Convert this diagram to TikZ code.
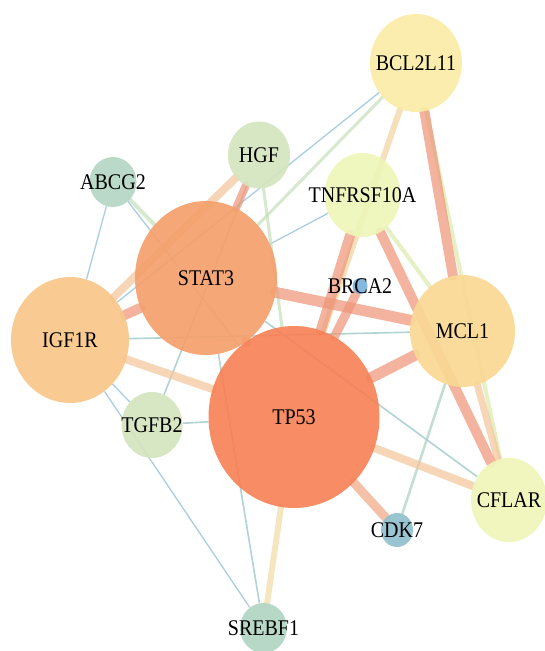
\documentclass[tikz,border=0pt]{standalone}
\usepackage{fontspec}
\setmainfont{Liberation Serif}
\usetikzlibrary{shapes.geometric,backgrounds}
\definecolor{cBCL}{RGB}{250,236,166}
\definecolor{cHGF}{RGB}{212,228,190}
\definecolor{cABC}{RGB}{180,214,196}
\definecolor{cTNF}{RGB}{238,245,184}
\definecolor{cSTA}{RGB}{245,160,108}
\definecolor{cIGF}{RGB}{249,198,136}
\definecolor{cMCL}{RGB}{250,216,148}
\definecolor{cBRC}{RGB}{122,178,220}
\definecolor{cTP5}{RGB}{246,130,88}
\definecolor{cTGF}{RGB}{212,228,190}
\definecolor{cCDK}{RGB}{144,192,206}
\definecolor{cCFL}{RGB}{240,245,186}
\definecolor{cSRE}{RGB}{178,213,194}
\definecolor{eSal}{RGB}{238,150,122}
\definecolor{ePea}{RGB}{244,196,152}
\definecolor{eYel}{RGB}{242,222,170}
\definecolor{eGrn}{RGB}{196,222,184}
\definecolor{eLim}{RGB}{222,236,180}
\definecolor{eBlu}{RGB}{140,190,218}
\definecolor{eTea}{RGB}{150,196,196}
\newcommand{\tall}[1]{\scalebox{1}[1.12]{#1}}
\tikzset{
  nd/.style={ellipse, draw=none, inner sep=0pt, fill opacity=0.92},
  lbl/.style={inner sep=0pt, font=\fontsize{20}{24}\selectfont, text=black},
  esal/.style={draw=eSal, line width=10pt, draw opacity=0.72, line cap=round},
  epea/.style={draw=ePea, line width=8pt, draw opacity=0.7, line cap=round},
  eyel/.style={draw=eYel, line width=6pt, draw opacity=0.75, line cap=round},
  egrn/.style={draw=eGrn, line width=3.5pt, draw opacity=0.7, line cap=round},
  elim/.style={draw=eLim, line width=4pt, draw opacity=0.8, line cap=round},
  eblu/.style={draw=eBlu, line width=1.3pt, draw opacity=0.75},
  etea/.style={draw=eTea, line width=1.6pt, draw opacity=0.75}
}
\begin{document}
\begin{tikzpicture}[x=1pt,y=-1pt]
\useasboundingbox (0,0) rectangle (544,651);
% nodes (circles)
\node[nd, fill=cBCL, minimum width=92pt, minimum height=98pt] (bcl) at (416,63) {};
\node[nd, fill=cHGF, minimum width=62pt, minimum height=67pt] (hgf) at (259,155) {};
\node[nd, fill=cABC, minimum width=47pt, minimum height=50pt] (abc) at (113,182) {};
\node[nd, fill=cTNF, minimum width=76pt, minimum height=84pt] (tnf) at (362.5,195) {};
\node[nd, fill=cSTA, minimum width=142pt, minimum height=154pt] (sta) at (206,278) {};
\node[nd, fill=cIGF, minimum width=118pt, minimum height=126pt] (igf) at (70,340) {};
\node[nd, fill=cMCL, minimum width=105pt, minimum height=112pt] (mcl) at (462.5,331) {};
\node[nd, fill=cBRC, minimum width=15pt, minimum height=16pt] (brc) at (360,286) {};
\node[nd, fill=cTP5, minimum width=171pt, minimum height=182pt] (tp5) at (294,417) {};
\node[nd, fill=cTGF, minimum width=61pt, minimum height=66pt] (tgf) at (152,425) {};
\node[nd, fill=cCDK, minimum width=32pt, minimum height=34pt] (cdk) at (397,530) {};
\node[nd, fill=cCFL, minimum width=76pt, minimum height=84pt] (cfl) at (509,500) {};
\node[nd, fill=cSRE, minimum width=47pt, minimum height=50pt] (sre) at (263.5,628) {};
% labels
\node[lbl] (bcl-t) at (bcl) {\tall{BCL2L11}};
\node[lbl] (hgf-t) at (hgf) {\tall{HGF}};
\node[lbl] (abc-t) at (abc) {\tall{ABCG2}};
\node[lbl] (tnf-t) at (tnf) {\tall{TNFRSF10A}};
\node[lbl] (sta-t) at (sta) {\tall{STAT3}};
\node[lbl] (igf-t) at (igf) {\tall{IGF1R}};
\node[lbl] (mcl-t) at (mcl) {\tall{MCL1}};
\node[lbl] (brc-t) at (brc) {\tall{BRCA2}};
\node[lbl] (tp5-t) at (tp5) {\tall{TP53}};
\node[lbl] (tgf-t) at (tgf) {\tall{TGFB2}};
\node[lbl] (cdk-t) at (cdk) {\tall{CDK7}};
\node[lbl] (cfl-t) at (cfl) {\tall{CFLAR}};
\node[lbl] (sre-t) at (sre) {\tall{SREBF1}};
% edges
\begin{pgfonlayer}{background}
\draw[eblu] (igf) -- (bcl);
\draw[egrn, line width=3pt] (sta) -- (bcl);
\draw[eblu] (sta) -- (tnf);
\draw[etea] (igf) -- (mcl);
\draw[eblu] (igf) -- (tgf);
\draw[eblu] (igf) -- (sre);
\draw[eblu] (abc) -- (igf);
\draw[eblu] (abc) -- (tp5);
\draw[egrn, line width=4pt] (abc) -- (sta);
\draw[etea] (hgf) -- (tgf);
\draw[egrn, line width=3pt] (hgf) -- (tp5);
\draw[etea] (tgf) -- (tp5);
\draw[etea] (sta) -- (sre);
\draw[etea] (sta) -- (cfl);
\draw[egrn, line width=2.5pt, draw=eTea!60!eGrn] (mcl) -- (cdk);
\draw[elim] (bcl) -- (cfl);
\draw[elim] (tnf) -- (mcl);
\draw[eyel, draw=ePea!35!eYel] (bcl) -- (tp5);
\draw[eyel] (tp5) -- (sre);
\draw[epea] (igf) -- (tp5);
\draw[epea] (igf) -- (hgf);
\draw[epea, line width=8pt] (tp5) -- (cfl);
\draw[epea, line width=7pt] (mcl) -- (cfl);
\draw[esal, line width=9pt, draw=eSal!60!ePea] (tp5) -- (cdk);
\draw[esal] (bcl) -- (mcl);
\draw[esal] (tnf) -- (tp5);
\draw[esal] (tnf) -- (cfl);
\draw[esal, line width=11pt] (sta) -- (mcl);
\draw[esal, line width=11pt] (tp5) -- (mcl);
\draw[esal, line width=9pt] (brc) -- (tp5);
\draw[esal] (igf) -- (sta);
\draw[esal, line width=8pt] (sta) -- (hgf);
\draw[esal] (sta) -- (tp5);
\end{pgfonlayer}
\end{tikzpicture}
\end{document}
